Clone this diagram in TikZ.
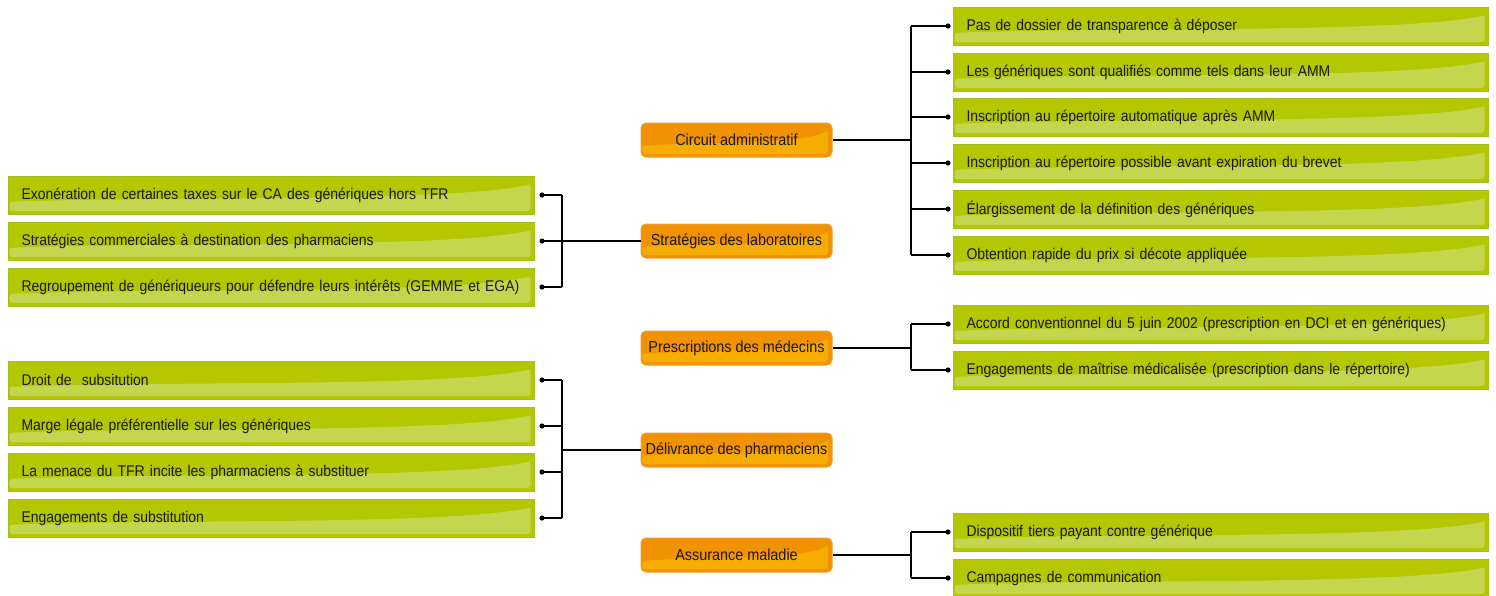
\documentclass[tikz,border=0pt]{standalone}
\usepackage{fontspec}
\setmainfont{Liberation Sans}[FakeStretch=0.9]
\usetikzlibrary{calc}
\definecolor{gfill}{RGB}{180,199,0}
\definecolor{gwave}{RGB}{196,213,78}
\definecolor{gborder}{RGB}{160,190,30}
\definecolor{ofill}{RGB}{241,146,0}
\definecolor{owave}{RGB}{246,172,0}
\definecolor{oborder}{RGB}{240,158,50}
\definecolor{txt}{RGB}{25,25,25}
\tikzset{
  wave/.style={path picture={
    \fill[#1, rounded corners=3pt] let \p1=(path picture bounding box.south west), \p2=(path picture bounding box.north east), \n1={\x2-\x1}, \n2={\y2-\y1} in
      ({\x1+1pt},{\y1+3pt}) -- ({\x1+1pt},{\y1+0.32*\n2}) [rounded corners=0pt] .. controls ({\x1+0.3*\n1},{\y1+0.48*\n2}) and ({\x1+0.85*\n1},{\y1+0.3*\n2}) .. ({\x2-4pt},{\y1+0.78*\n2}) [rounded corners=3pt] -- ({\x2-4pt},{\y1+3pt}) -- cycle;
  }},
  gbox/.style={draw=gborder, line width=1pt, fill=gfill, wave=gwave, anchor=west, text=txt,
    minimum height=38pt, inner xsep=13pt, inner ysep=0pt, text width=#1, align=left, font=\fontsize{15.5}{17}\selectfont},
  obox/.style={draw=oborder, line width=1pt, fill=ofill, wave=owave, rounded corners=5pt, text=txt,
    minimum height=34pt, minimum width=191pt, inner sep=0pt, font=\fontsize{16}{18}\selectfont},
  conn/.style={draw=black, line width=1.2pt},
  dot/.style={fill=black},
}
\begin{document}
\begin{tikzpicture}[x=1pt,y=-1pt]
\useasboundingbox (0,0) rectangle (1496,595);
% orange nodes
\node[obox] (ca) at (736.5,140) {Circuit administratif};
\node[obox] (sl) at (736.5,241) {Stratégies des laboratoires};
\node[obox] (pm) at (736.5,348) {Prescriptions des médecins};
\node[obox] (dp) at (736.5,450) {Délivrance des pharmaciens};
\node[obox] (am) at (736.5,555) {Assurance maladie};
% right green boxes
\node[gbox=509pt] (r1) at (953,26) {Pas de dossier de transparence à déposer};
\node[gbox=509pt] (r2) at (953,72) {Les génériques sont qualifiés comme tels dans leur AMM};
\node[gbox=509pt] (r3) at (953,117) {Inscription au répertoire automatique après AMM};
\node[gbox=509pt] (r4) at (953,163) {Inscription au répertoire possible avant expiration du brevet};
\node[gbox=509pt] (r5) at (953,209) {Élargissement de la définition des génériques};
\node[gbox=509pt] (r6) at (953,255) {Obtention rapide du prix si décote appliquée};
\node[gbox=509pt] (p1) at (953,324) {Accord conventionnel du 5 juin 2002 (prescription en DCI et en génériques)};
\node[gbox=509pt] (p2) at (953,370) {Engagements de maîtrise médicalisée (prescription dans le répertoire)};
\node[gbox=509pt] (a1) at (953,532) {Dispositif tiers payant contre générique};
\node[gbox=509pt] (a2) at (953,578) {Campagnes de communication};
% left green boxes
\node[gbox=500pt] (l1) at (8,195) {Exonération de certaines taxes sur le CA des génériques hors TFR};
\node[gbox=500pt] (l2) at (8,241) {Stratégies commerciales à destination des pharmaciens};
\node[gbox=500pt] (l3) at (8,287) {Regroupement de génériqueurs pour défendre leurs intérêts (GEMME et EGA)};
\node[gbox=500pt] (d1) at (8,380) {Droit de \ subsitution};
\node[gbox=500pt] (d2) at (8,426) {Marge légale préférentielle sur les génériques};
\node[gbox=500pt] (d3) at (8,472) {La menace du TFR incite les pharmaciens à substituer};
\node[gbox=500pt] (d4) at (8,518) {Engagements de substitution};
% junction coordinates
\coordinate (jca) at (911,140);
\coordinate (jpm) at (911,348);
\coordinate (jam) at (911,555);
\coordinate (jsl) at (562,241);
\coordinate (jdp) at (562,450);
% right connectors
\draw[conn] (ca.east) -- (jca);
\draw[conn] (jca |- r1.west) -- (jca |- r6.west);
\foreach \n in {r1,r2,r3,r4,r5,r6} {
  \draw[conn] (jca |- \n.west) -- ([xshift=-5pt]\n.west);
  \fill[dot] ([xshift=-5pt]\n.west) circle (2.6pt);
}
\draw[conn] (pm.east) -- (jpm);
\draw[conn] (jpm |- p1.west) -- (jpm |- p2.west);
\foreach \n in {p1,p2} {
  \draw[conn] (jpm |- \n.west) -- ([xshift=-5pt]\n.west);
  \fill[dot] ([xshift=-5pt]\n.west) circle (2.6pt);
}
\draw[conn] (am.east) -- (jam);
\draw[conn] (jam |- a1.west) -- (jam |- a2.west);
\foreach \n in {a1,a2} {
  \draw[conn] (jam |- \n.west) -- ([xshift=-5pt]\n.west);
  \fill[dot] ([xshift=-5pt]\n.west) circle (2.6pt);
}
% left connectors
\draw[conn] (sl.west) -- (jsl);
\draw[conn] (jsl |- l1.east) -- (jsl |- l3.east);
\foreach \n in {l1,l2,l3} {
  \draw[conn] (jsl |- \n.east) -- ([xshift=7pt]\n.east);
  \fill[dot] ([xshift=7pt]\n.east) circle (2.6pt);
}
\draw[conn] (dp.west) -- (jdp);
\draw[conn] (jdp |- d1.east) -- (jdp |- d4.east);
\foreach \n in {d1,d2,d3,d4} {
  \draw[conn] (jdp |- \n.east) -- ([xshift=7pt]\n.east);
  \fill[dot] ([xshift=7pt]\n.east) circle (2.6pt);
}
\end{tikzpicture}
\end{document}
